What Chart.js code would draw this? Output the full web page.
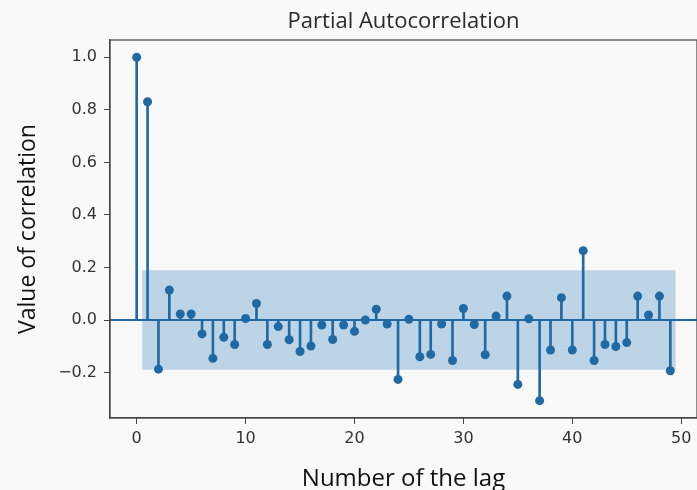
<!DOCTYPE html>
<html>
<head>
<meta charset="utf-8">
<script src="https://cdn.jsdelivr.net/npm/chart.js@4.4.0/dist/chart.umd.min.js"></script>
<style>
  html, body { margin: 0; padding: 0; background: #f9f9f9; }
  #wrap { width: 697px; height: 490px; }
</style>
</head>
<body>
<div id="wrap"><canvas id="pacf"></canvas></div>
<script>
// partial autocorrelation per lag (lag 0..49)
var lags = [];
for (var i = 0; i < 50; i++) lags.push(i);
var pacfValues = [
    1.0, 0.831, -0.187, 0.114, 0.023, 0.023, -0.053, -0.146, -0.066, -0.093,
    0.006, 0.063, -0.093, -0.025, -0.075, -0.120, -0.099, -0.019, -0.074, -0.019,
    -0.043, 0.0, 0.041, -0.015, -0.226, 0.003, -0.140, -0.131, -0.015, -0.154,
    0.044, -0.017, -0.132, 0.015, 0.091, -0.245, 0.005, -0.307, -0.114, 0.085,
    -0.114, 0.264, -0.154, -0.093, -0.101, -0.086, 0.091, 0.019, 0.091, -0.193
];
var confLimit = 0.189;
var bandLags = [0.5, 49.5];
var xRange = [-2.45, 51.45];
var yRange = [-0.373, 1.066];
var xTicks = [0, 10, 20, 30, 40, 50];
var yTicks = [-0.2, 0.0, 0.2, 0.4, 0.6, 0.8, 1.0];
var yTickLabels = ['\u22120.2', '0.0', '0.2', '0.4', '0.6', '0.8', '1.0'];

var stemColor = '#1f6aa5';

var points = lags.map(function(l, i) { return { x: l, y: pacfValues[i] }; });

var frame = {
    id: 'frame',
    afterDraw: function(chart) {
        var a = chart.chartArea, ctx = chart.ctx;
        ctx.save();
        ctx.strokeStyle = '#444';
        ctx.lineWidth = 1.2;
        ctx.strokeRect(a.left, a.top, a.right - a.left, a.bottom - a.top);
        ctx.restore();
    }
};

new Chart(document.getElementById('pacf'), {
    type: 'scatter',
    data: {
        datasets: [{
            type: 'line',
            data: bandLags.map(function(l) { return { x: l, y: confLimit }; }),
            borderWidth: 0,
            pointRadius: 0,
            backgroundColor: 'rgba(31, 119, 180, 0.28)',
            fill: '+1',
            order: 5
        }, {
            type: 'line',
            data: bandLags.map(function(l) { return { x: l, y: -confLimit }; }),
            borderWidth: 0,
            pointRadius: 0,
            fill: false,
            order: 5
        }, {
            type: 'line',
            data: xRange.map(function(l) { return { x: l, y: 0 }; }),
            borderColor: stemColor,
            borderWidth: 2,
            pointRadius: 0,
            fill: false,
            order: 3
        }, {
            type: 'bar',
            data: points,
            backgroundColor: stemColor,
            barThickness: 2,
            grouped: false,
            order: 2
        }, {
            type: 'scatter',
            data: points,
            backgroundColor: stemColor,
            borderWidth: 0,
            pointRadius: 4.5,
            order: 1
        }]
    },
    options: {
        responsive: true,
        maintainAspectRatio: false,
        animation: false,
        layout: { padding: 0, autoPadding: false },
        plugins: {
            legend: { display: false },
            tooltip: { enabled: false },
            title: {
                display: true,
                text: 'Partial Autocorrelation',
                fullSize: false,
                color: '#2a2a2a',
                font: { family: 'Open Sans', size: 22, weight: 'normal' },
                padding: { top: 8.8, bottom: 4.8 }
            }
        },
        scales: {
            x: {
                type: 'linear',
                min: xRange[0],
                max: xRange[1],
                offset: false,
                afterFit: function(s) {
                    s.height = 72;
                    s.paddingLeft = 0;
                    s.paddingRight = 0;
                },
                afterBuildTicks: function(s) { s.ticks = xTicks.map(function(v) { return { value: v }; }); },
                ticks: {
                    color: '#333',
                    padding: 5,
                    maxRotation: 0,
                    font: { family: 'DejaVu Sans', size: 16 },
                    callback: function(v) { return String(v); }
                },
                grid: { offset: false, drawOnChartArea: false, drawTicks: true, tickLength: 6, color: '#444' },
                border: { display: true, color: '#444', width: 1.2 },
                title: {
                    display: true,
                    text: 'Number of the lag',
                    color: '#111',
                    font: { family: 'Open Sans', size: 24 },
                    padding: { top: 0, bottom: -4 }
                }
            },
            y: {
                type: 'linear',
                min: yRange[0],
                max: yRange[1],
                afterFit: function(s) { s.width = 110; },
                afterBuildTicks: function(s) { s.ticks = yTicks.map(function(v) { return { value: v }; }); },
                ticks: {
                    color: '#333',
                    padding: 7,
                    font: { family: 'DejaVu Sans', size: 16 },
                    callback: function(v, i) { return yTickLabels[i]; }
                },
                grid: { drawOnChartArea: false, drawTicks: true, tickLength: 6, color: '#444' },
                border: { display: true, color: '#444', width: 1.2 },
                title: {
                    display: true,
                    text: 'Value of correlation',
                    color: '#111',
                    font: { family: 'Open Sans', size: 23 },
                    padding: { top: 15, bottom: 0 }
                }
            }
        }
    },
    plugins: [frame]
});
</script>
</body>
</html>
